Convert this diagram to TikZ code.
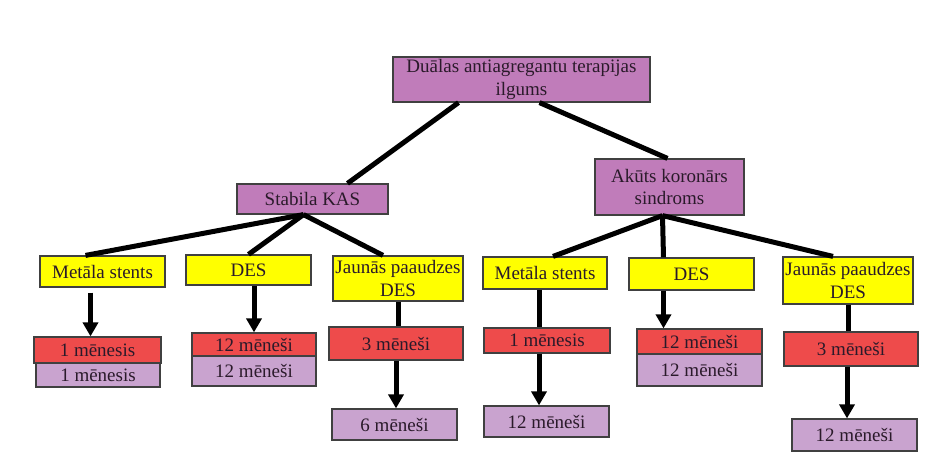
\documentclass[tikz,border=0pt]{standalone}
\usepackage{fontspec}
\setmainfont{Liberation Serif}
\usetikzlibrary{arrows.meta}

\definecolor{grupaviol}{HTML}{C07CBA}
\definecolor{periodsviol}{HTML}{C9A3CF}
\definecolor{sarkana}{HTML}{EE4B4B}
\definecolor{dzeltena}{HTML}{FFFF00}
\definecolor{teksts}{HTML}{2A1A2A}

\begin{document}
\begin{tikzpicture}[x=1pt,y=-1pt,
  box/.style={draw=black!75,line width=1.2pt,rectangle,inner sep=1pt,align=center,text=teksts,font=\fontsize{19}{22.5}\selectfont},
  grupa/.style={box,fill=grupaviol},
  stents/.style={box,fill=dzeltena},
  sarkans/.style={box,fill=sarkana},
  violets/.style={box,fill=periodsviol},
  zars/.style={line width=5pt},
  bulta/.style={line width=5pt,-{Triangle[width=15pt,length=14pt]}}]
  \useasboundingbox (0,0) rectangle (940,466);
			\node[grupa,minimum width=257pt,minimum height=45pt] (dapt)at(521.5,79.5) {Duālas antiagregantu terapijas\\ilgums};
			\node[grupa,minimum width=151pt,minimum height=30pt] (kas)at(312.5,199) {Stabila KAS};
			\node[grupa,minimum width=149pt,minimum height=56pt] (aks)at(669.5,187) {Akūts koronārs\\sindroms};
			% stabila KAS
			\node[stents,minimum width=125pt,minimum height=31pt] (ms1)at(102.5,271.5) {Metāla stents};
			\node[stents,minimum width=125pt,minimum height=30pt] (des1)at(248.5,270) {DES};
			\node[stents,minimum width=130pt,minimum height=45pt] (jp1)at(398,278.5) {Jaunās paaudzes\\DES};
			\node[sarkans,minimum width=127pt,minimum height=26pt] (ms1a)at(97.5,350) {1 mēnesis};
			\node[violets,minimum width=124pt,minimum height=24pt] (ms1b)at(98,375) {1 mēnesis};
			\node[sarkans,minimum width=124pt,minimum height=23pt] (des1a)at(254,344.5) {12 mēneši};
			\node[violets,minimum width=124pt,minimum height=30pt] (des1b)at(254,371) {12 mēneši};
			\node[sarkans,minimum width=134pt,minimum height=33pt] (jp1a)at(396,343.5) {3 mēneši};
			\node[violets,minimum width=125pt,minimum height=31pt] (jp1b)at(394.5,424.5) {6 mēneši};
			% akuts koronars sindroms
			\node[stents,minimum width=124pt,minimum height=32pt] (ms2)at(545,273) {Metāla stents};
			\node[stents,minimum width=125pt,minimum height=32pt] (des2)at(691.5,274) {DES};
			\node[stents,minimum width=130pt,minimum height=47pt] (jp2)at(848,280.5) {Jaunās paaudzes\\DES};
			\node[sarkans,minimum width=126pt,minimum height=25pt] (ms2a)at(547,340.5) {1 mēnesis};
			\node[violets,minimum width=125pt,minimum height=31pt] (ms2b)at(546.5,421.5) {12 mēneši};
			\node[sarkans,minimum width=125pt,minimum height=25pt] (des2a)at(699.5,341.5) {12 mēneši};
			\node[violets,minimum width=125pt,minimum height=32pt] (des2b)at(699.5,370) {12 mēneši};
			\node[sarkans,minimum width=134pt,minimum height=34pt] (jp2a)at(851,349) {3 mēneši};
			\node[violets,minimum width=125pt,minimum height=32pt] (jp2b)at(854.5,435) {12 mēneši};
			\draw[zars] ([xshift=-63pt]dapt.south) -- ([xshift=35pt]kas.north);
			\draw[zars] ([xshift=18pt]dapt.south) -- ([xshift=-2pt]aks.north);
			\draw[zars] ([xshift=-9pt]kas.south) -- ([xshift=-17pt]ms1.north);
			\draw[zars] ([xshift=-9pt]kas.south) -- (des1.north);
			\draw[zars] ([xshift=-9pt]kas.south) -- ([xshift=-15pt]jp1.north);
			\draw[zars] ([xshift=-7pt]aks.south) -- ([xshift=8pt]ms2.north);
			\draw[zars] ([xshift=-7pt]aks.south) -- ([xshift=-28pt]des2.north);
			\draw[zars] ([xshift=-7pt]aks.south) -- ([xshift=-15pt]jp2.north);
			\draw[bulta,shorten <=5pt] ([xshift=-12pt]ms1.south) -- ([xshift=-12pt]ms1.south |- ms1a.north);
			\draw[bulta] (des1a.north |- des1.south) -- (des1a.north);
			\draw[zars] (jp1.south) -- (jp1.south |- jp1a.north);
			\draw[bulta] (jp1a.south) -- (jp1a.south |- jp1b.north);
			\draw[zars] ([xshift=-6pt]ms2.south) -- ([xshift=-6pt]ms2.south |- ms2a.north);
			\draw[bulta] ([xshift=-8pt]ms2a.south) -- ([xshift=-8pt]ms2a.south |- ms2b.north);
			\draw[bulta] ([xshift=-28pt]des2.south) -- ([xshift=-28pt]des2.south |- des2a.north);
			\draw[zars] (jp2.south) -- (jp2.south |- jp2a.north);
			\draw[bulta] ([xshift=-4pt]jp2a.south) -- ([xshift=-4pt]jp2a.south |- jp2b.north);
		\end{tikzpicture}
\end{document}
